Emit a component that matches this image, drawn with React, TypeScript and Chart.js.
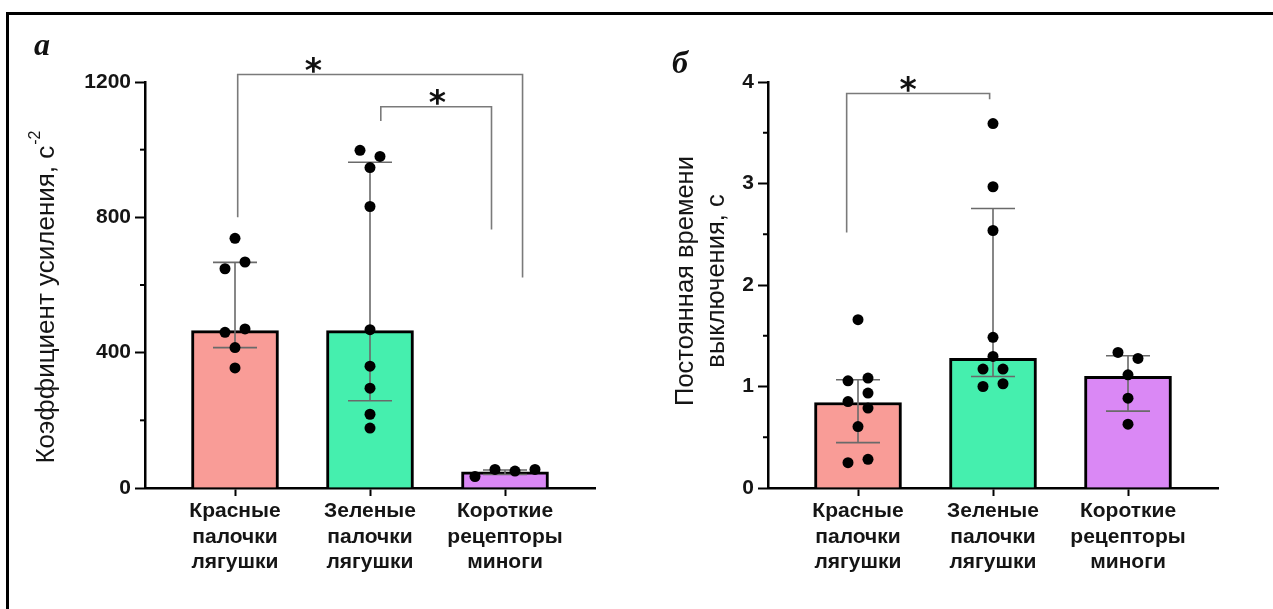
import React, { useEffect, useRef } from 'react';
import { Chart, registerables } from 'chart.js';

Chart.register(...registerables);

const SANS = '"Liberation Sans", Arial, sans-serif';
const SERIF = '"Liberation Serif", "Times New Roman", serif';

// ---------- shared ----------
const categories = [
  ['Красные', 'палочки', 'лягушки'],
  ['Зеленые', 'палочки', 'лягушки'],
  ['Короткие', 'рецепторы', 'миноги'],
];
const categoryIndex = [0, 1, 2];
const barColors = ['#F99C97', '#45EFAE', '#DA88F5'];

// ---------- panel а : gain coefficient ----------
const gainTitle = ['Коэффициент усиления, с'];
const gainTitleSup = '-2';
const gainTicks = [0, 400, 800, 1200];
const gainMinorTicks = [200, 600, 1000];
const gainMedian = [465, 465, 48];
const gainLower = [415, 258, 40];
const gainUpper = [667, 963, 53];
const gainRed = [738, 668, 648, 470, 460, 415, 355];
const gainGreen = [998, 980, 947, 832, 468, 360, 295, 218, 177];
const gainPurple = [34, 55, 50, 55];
const gainRedSlots = [0, 1, -1, 1, -1, 0, 0];
const gainGreenSlots = [-1, 1, 0, 0, 0, 0, 0, 0, 0];
const gainPurpleSlots = [-3, -1, 1, 3];
const gainBrackets = [
  { x1: 0.02, x2: 2.13, y1: 800, y2: 622, top: 1222, starX: 0.58 },
  { x1: 1.08, x2: 1.9, y1: 1085, y2: 764, top: 1127, starX: 1.5 },
];

// ---------- panel б : turn-off time constant ----------
const tauTitle = ['Постоянная времени', 'выключения, с'];
const tauTicks = [0, 1, 2, 3, 4];
const tauMinorTicks = [0.5, 1.5, 2.5, 3.5];
const tauMedian = [0.842, 1.277, 1.099];
const tauLower = [0.447, 1.099, 0.757];
const tauUpper = [1.066, 2.754, 1.303];
const tauRed = [1.658, 1.056, 1.083, 0.935, 0.852, 0.787, 0.605, 0.25, 0.283];
const tauGreen = [3.59, 2.968, 2.537, 1.484, 1.296, 1.172, 1.172, 1.0, 1.027];
const tauPurple = [1.336, 1.277, 1.115, 0.885, 0.629];
const tauRedSlots = [0, -1, 1, 1, -1, 1, 0, -1, 1];
const tauGreenSlots = [0, 0, 0, 0, 0, -1, 1, -1, 1];
const tauPurpleSlots = [-1, 1, 0, 0, 0];
const tauBrackets = [{ x1: -0.084, x2: 0.975, y1: 2.517, y2: 3.83, top: 3.886, starX: 0.372 }];

type Bracket = { x1: number; x2: number; y1: number; y2: number; top: number; starX: number };
type Panel = {
  letter: string;
  letterX: number;
  letterY: number;
  title: string[];
  titleSup: string;
  titleSize: number;
  titleX: number;
  titleY: number;
  titleLineGap: number;
  yMax: number;
  ticks: number[];
  minor: number[];
  median: number[];
  lower: number[];
  upper: number[];
  points: number[][];
  slots: number[][];
  brackets: Bracket[];
  width: number;
  yWidth: number;
  padRight: number;
};

function overlay(p: Panel) {
  return {
    id: 'overlay',
    afterDatasetsDraw(chart: any) {
      const ctx = chart.ctx;
      const xs = chart.scales.x;
      const ys = chart.scales.y;
      ctx.save();
      // whiskers
      ctx.strokeStyle = '#6a6a6a';
      ctx.lineWidth = 1.6;
      categoryIndex.forEach((i) => {
        const cx = xs.getPixelForValue(i);
        const lo = ys.getPixelForValue(p.lower[i]);
        const hi = ys.getPixelForValue(p.upper[i]);
        ctx.beginPath();
        ctx.moveTo(cx, lo);
        ctx.lineTo(cx, hi);
        ctx.moveTo(cx - 22, lo);
        ctx.lineTo(cx + 22, lo);
        ctx.moveTo(cx - 22, hi);
        ctx.lineTo(cx + 22, hi);
        ctx.stroke();
      });
      // dots
      ctx.fillStyle = '#000';
      categoryIndex.forEach((i) => {
        const cx = xs.getPixelForValue(i);
        p.points[i].forEach((v, k) => {
          const px = cx + p.slots[i][k] * 10;
          const py = ys.getPixelForValue(v);
          ctx.beginPath();
          ctx.arc(px, py, 5.5, 0, Math.PI * 2);
          ctx.fill();
        });
      });
      // minor ticks
      ctx.strokeStyle = '#000';
      ctx.lineWidth = 2;
      const ax = chart.chartArea.left;
      p.minor.forEach((v) => {
        const py = ys.getPixelForValue(v);
        ctx.beginPath();
        ctx.moveTo(ax - 5, py);
        ctx.lineTo(ax, py);
        ctx.stroke();
      });
      // significance brackets
      ctx.strokeStyle = '#7a7a7a';
      ctx.lineWidth = 1.6;
      p.brackets.forEach((b) => {
        const x1 = xs.getPixelForValue(b.x1);
        const x2 = xs.getPixelForValue(b.x2);
        const t = ys.getPixelForValue(b.top);
        ctx.beginPath();
        ctx.moveTo(x1, ys.getPixelForValue(b.y1));
        ctx.lineTo(x1, t);
        ctx.lineTo(x2, t);
        ctx.lineTo(x2, ys.getPixelForValue(b.y2));
        ctx.stroke();
        ctx.fillStyle = '#111';
        ctx.font = 'bold 33px "DejaVu Sans", sans-serif';
        ctx.textAlign = 'center';
        ctx.textBaseline = 'alphabetic';
        ctx.fillText('*', xs.getPixelForValue(b.starX), t + 7);
      });
      // y-axis title (rotated, with optional superscript)
      ctx.fillStyle = '#151515';
      ctx.translate(p.titleX, p.titleY);
      ctx.rotate(-Math.PI / 2);
      ctx.textBaseline = 'middle';
      const mainFont = `${p.titleSize}px ${SANS}`;
      const supFont = `${Math.round(p.titleSize * 0.62)}px ${SANS}`;
      p.title.forEach((line, li) => {
        ctx.font = mainFont;
        const w = ctx.measureText(line).width;
        let sw = 0;
        if (li === p.title.length - 1 && p.titleSup) {
          ctx.font = supFont;
          sw = ctx.measureText(p.titleSup).width + 1;
        }
        const total = w + sw;
        const yy = li * p.titleLineGap;
        ctx.font = mainFont;
        ctx.textAlign = 'left';
        ctx.fillText(line, -total / 2, yy);
        if (sw) {
          ctx.font = supFont;
          ctx.fillText(p.titleSup, -total / 2 + w + 1, yy - p.titleSize * 0.42);
        }
      });
      ctx.setTransform(1, 0, 0, 1, 0, 0);
      // panel letter
      ctx.fillStyle = '#111';
      ctx.font = `italic bold 32px ${SERIF}`;
      ctx.textAlign = 'left';
      ctx.textBaseline = 'alphabetic';
      ctx.fillText(p.letter, p.letterX, p.letterY);
      ctx.restore();
    },
  };
}

function buildConfig(p: Panel): any {
  return {
    type: 'bar',
    data: {
      datasets: [
        {
          data: categoryIndex.map((i) => ({ x: i, y: p.median[i] })),
          backgroundColor: barColors,
          borderColor: '#000',
          borderWidth: 3,
          barThickness: 87,
        },
      ],
    },
    options: {
      responsive: false,
      animation: false,
      events: [],
      layout: { padding: { left: 0, top: 82, right: p.padRight, bottom: 0 } },
      plugins: { legend: { display: false }, tooltip: { enabled: false } },
      scales: {
        x: {
          type: 'linear',
          offset: false,
          min: -2 / 3,
          max: 8 / 3,
          afterBuildTicks: (s: any) => {
            s.ticks = categoryIndex.map((v) => ({ value: v }));
          },
          afterFit: (s: any) => {
            s.height = 121;
          },
          grid: {
            display: true,
            offset: false,
            drawOnChartArea: false,
            drawTicks: true,
            tickLength: 8,
            tickWidth: 2,
            tickColor: '#000',
          },
          border: { display: true, color: '#000', width: 2.5 },
          ticks: {
            callback: (v: number) => categories[v] ?? '',
            font: { family: SANS, size: 21, weight: 'bold', lineHeight: 1.2 },
            color: '#151515',
            padding: 3,
            maxRotation: 0,
            minRotation: 0,
            autoSkip: false,
          },
        },
        y: {
          min: 0,
          max: p.yMax,
          afterBuildTicks: (s: any) => {
            s.ticks = p.ticks.map((v) => ({ value: v }));
          },
          afterFit: (s: any) => {
            s.width = p.yWidth;
          },
          grid: {
            display: true,
            drawOnChartArea: false,
            drawTicks: true,
            tickLength: 10,
            tickWidth: 2,
            tickColor: '#000',
          },
          border: { display: true, color: '#000', width: 2.5 },
          ticks: {
            callback: (v: number) => String(v),
            font: { family: SANS, size: 21, weight: 'bold' },
            color: '#151515',
            padding: 4,
          },
          title: { display: false },
        },
      },
    },
    plugins: [overlay(p)],
  };
}

const panelA: Panel = {
  letter: 'а',
  letterX: 34,
  letterY: 55,
  title: gainTitle,
  titleSup: gainTitleSup,
  titleSize: 26,
  titleX: 47,
  titleY: 297,
  titleLineGap: 31,
  yMax: 1200,
  ticks: gainTicks,
  minor: gainMinorTicks,
  median: gainMedian,
  lower: gainLower,
  upper: gainUpper,
  points: [gainRed, gainGreen, gainPurple],
  slots: [gainRedSlots, gainGreenSlots, gainPurpleSlots],
  brackets: gainBrackets,
  width: 620,
  yWidth: 145,
  padRight: 25,
};

const panelB: Panel = {
  letter: 'б',
  letterX: 52,
  letterY: 73,
  title: tauTitle,
  titleSup: '',
  titleSize: 25.5,
  titleX: 66,
  titleY: 281,
  titleLineGap: 31,
  yMax: 4,
  ticks: tauTicks,
  minor: tauMinorTicks,
  median: tauMedian,
  lower: tauLower,
  upper: tauUpper,
  points: [tauRed, tauGreen, tauPurple],
  slots: [tauRedSlots, tauGreenSlots, tauPurpleSlots],
  brackets: tauBrackets,
  width: 653,
  yWidth: 148,
  padRight: 55,
};

function PanelChart({ panel, left }: { panel: Panel; left: number }) {
  const ref = useRef<HTMLCanvasElement | null>(null);
  useEffect(() => {
    if (!ref.current) return;
    const chart = new Chart(ref.current, buildConfig(panel));
    return () => chart.destroy();
  }, [panel]);
  return (
    <canvas
      ref={ref}
      width={panel.width}
      height={609}
      style={{ position: 'absolute', left, top: 0, width: panel.width, height: 609 }}
    />
  );
}

export default function App() {
  return (
    <div
      style={{
        position: 'fixed',
        left: 0,
        top: 0,
        width: 1273,
        height: 609,
        overflow: 'hidden',
        background: '#fff',
      }}
    >
      <div
        style={{
          position: 'absolute',
          left: 6,
          top: 12,
          width: 1400,
          height: 800,
          borderLeft: '3px solid #000',
          borderTop: '3px solid #000',
        }}
      />
      <PanelChart panel={panelA} left={0} />
      <PanelChart panel={panelB} left={620} />
    </div>
  );
}
